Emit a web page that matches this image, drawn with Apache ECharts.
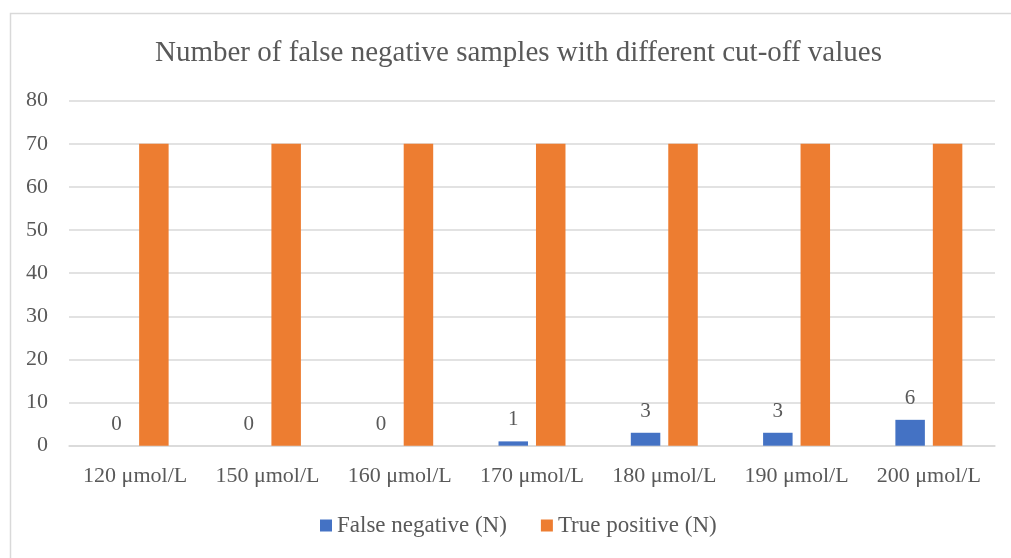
<!DOCTYPE html>
<html>
<head>
<meta charset="utf-8">
<script src="https://cdn.jsdelivr.net/npm/echarts@6/dist/echarts.min.js"></script>
<style>
  html, body { margin: 0; padding: 0; background: #fff; }
  #chart { width: 1011px; height: 558px; }
</style>
</head>
<body>
<div id="chart"></div>
<script>
// chart data
const categories = ['120 μmol/L', '150 μmol/L', '160 μmol/L', '170 μmol/L', '180 μmol/L', '190 μmol/L', '200 μmol/L'];
const falseNegative = [0, 0, 0, 1, 3, 3, 6];
const truePositive = [70, 70, 70, 70, 70, 70, 70];
const seriesNames = ['False negative (N)', 'True positive (N)'];

const font = '"Liberation Serif", "DejaVu Serif", serif';
const textColor = '#595959';
const lineColor = '#d9d9d9';

const myChart = echarts.init(document.getElementById('chart'));

const option = {
  backgroundColor: '#fff',
  animation: false,
  textStyle: { fontFamily: font, color: textColor },
  title: {
    text: 'Number of false negative samples with different cut-off values',
    left: 155,
    top: 39,
    padding: 0,
    textStyle: {
      fontFamily: font,
      fontWeight: 'normal',
      fontSize: 29,
      color: textColor
    }
  },
  legend: {
    data: seriesNames,
    left: 320,
    top: 514,
    padding: 0,
    itemWidth: 12,
    itemHeight: 12,
    itemGap: 34,
    icon: 'rect',
    textStyle: { fontFamily: font, fontSize: 23, color: textColor }
  },
  grid: {
    left: 69,
    right: 16,
    top: 100.7,
    bottom: 112.3,
    containLabel: false,
    outerBoundsMode: 'none'
  },
  xAxis: {
    type: 'category',
    data: categories,
    axisLine: { lineStyle: { color: lineColor, width: 1.5 } },
    axisTick: { show: false },
    axisLabel: {
      fontFamily: font,
      fontSize: 22,
      color: textColor,
      margin: 20,
      interval: 0
    }
  },
  yAxis: {
    type: 'value',
    min: 0,
    max: 80,
    interval: 10,
    axisLine: { show: false },
    axisTick: { show: false },
    axisLabel: {
      fontFamily: font,
      fontSize: 22,
      color: textColor,
      margin: 21
    },
    splitLine: { lineStyle: { color: lineColor, width: 1.5 } }
  },
  series: [
    {
      name: seriesNames[0],
      type: 'bar',
      data: falseNegative,
      barWidth: 29.5,
      barGap: '27%',
      itemStyle: { color: '#4472C4' },
      label: {
        show: true,
        position: 'top',
        distance: 11,
        fontFamily: font,
        fontSize: 21,
        color: textColor
      }
    },
    {
      name: seriesNames[1],
      type: 'bar',
      data: truePositive,
      barWidth: 29.5,
      barGap: '27%',
      itemStyle: { color: '#ED7D31' }
    }
  ],
  graphic: [
    {
      type: 'rect',
      silent: true,
      z: -10,
      shape: { x: 10.5, y: 13.5, width: 1100, height: 600 },
      style: { fill: 'none', stroke: lineColor, lineWidth: 1.5 }
    }
  ]
};

myChart.setOption(option);
</script>
</body>
</html>
